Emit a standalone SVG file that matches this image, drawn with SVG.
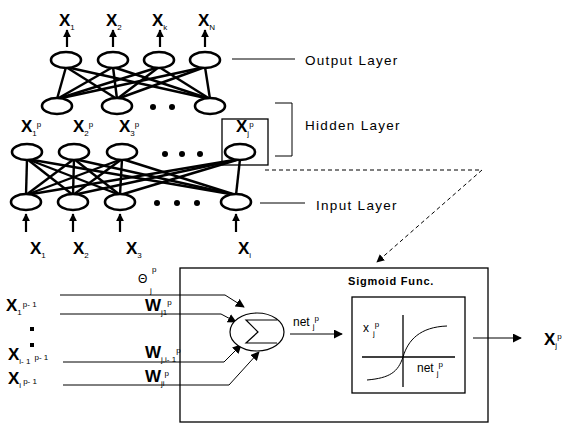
<svg xmlns="http://www.w3.org/2000/svg" width="571" height="424" viewBox="0 0 571 424">
<style>
.n{fill:#fff;stroke:#000;stroke-width:2.6}
.e{stroke:#000;stroke-width:2.4;fill:none}
.t{stroke:#000;stroke-width:1;fill:none}
.X{font-family:"Liberation Sans",Arial,sans-serif;font-weight:bold;font-size:17px;fill:#000}
.s{font-family:"Liberation Sans",Arial,sans-serif;font-size:8px;fill:#000;font-weight:normal}
.L{font-family:"Liberation Sans",Arial,sans-serif;font-size:13.5px;letter-spacing:1.3px;fill:#000}
.m{font-family:"Liberation Sans",Arial,sans-serif;font-size:12px;fill:#000}
.d{fill:#000}
</style>
<defs>
<marker id="ah" viewBox="0 0 10 10" refX="9" refY="5" markerWidth="8" markerHeight="8" markerUnits="userSpaceOnUse" orient="auto"><path d="M0,0 L10,5 L0,10 z" fill="#000"/></marker>
<marker id="ab" viewBox="0 0 10 10" refX="9" refY="5" markerWidth="9" markerHeight="9" markerUnits="userSpaceOnUse" orient="auto"><path d="M0,0 L10,5 L0,10 z" fill="#000"/></marker>
</defs>

<g id="connectors">
<g class="e">
<line x1="66" y1="67" x2="57" y2="99"/><line x1="66" y1="67" x2="117" y2="99"/><line x1="66" y1="67" x2="210" y2="99"/>
<line x1="113" y1="67" x2="57" y2="99"/><line x1="113" y1="67" x2="117" y2="99"/><line x1="113" y1="67" x2="210" y2="99"/>
<line x1="159" y1="67" x2="57" y2="99"/><line x1="159" y1="67" x2="117" y2="99"/><line x1="159" y1="67" x2="210" y2="99"/>
<line x1="205" y1="67" x2="57" y2="99"/><line x1="205" y1="67" x2="117" y2="99"/><line x1="205" y1="67" x2="210" y2="99"/>
<line x1="27" y1="159" x2="26" y2="195"/><line x1="27" y1="159" x2="73" y2="195"/><line x1="27" y1="159" x2="120" y2="195"/><line x1="27" y1="159" x2="236" y2="195"/>
<line x1="74" y1="159" x2="26" y2="195"/><line x1="74" y1="159" x2="73" y2="195"/><line x1="74" y1="159" x2="120" y2="195"/><line x1="74" y1="159" x2="236" y2="195"/>
<line x1="122" y1="159" x2="26" y2="195"/><line x1="122" y1="159" x2="73" y2="195"/><line x1="122" y1="159" x2="120" y2="195"/><line x1="122" y1="159" x2="236" y2="195"/>
<line x1="240" y1="159" x2="26" y2="195"/><line x1="240" y1="159" x2="73" y2="195"/><line x1="240" y1="159" x2="120" y2="195"/><line x1="240" y1="159" x2="236" y2="195"/>
</g>
<g stroke="#000" stroke-width="2.2">
<line x1="67" y1="47" x2="67" y2="30" marker-end="url(#ah)"/>
<line x1="113" y1="47" x2="113" y2="30" marker-end="url(#ah)"/>
<line x1="160" y1="47" x2="160" y2="30" marker-end="url(#ah)"/>
<line x1="205" y1="47" x2="205" y2="30" marker-end="url(#ah)"/>
<line x1="26" y1="232" x2="26" y2="214" marker-end="url(#ah)"/>
<line x1="73" y1="232" x2="73" y2="214" marker-end="url(#ah)"/>
<line x1="120" y1="232" x2="120" y2="214" marker-end="url(#ah)"/>
<line x1="236" y1="232" x2="236" y2="214" marker-end="url(#ah)"/>
</g>
<g class="t">
<line x1="232" y1="59" x2="295" y2="59"/>
<polyline points="275,103 292,103 292,156 275,156"/>
<line x1="260" y1="203" x2="305" y2="203"/>
</g>
<polyline points="265,170 482,170 377,262" fill="none" stroke="#000" stroke-width="1" stroke-dasharray="4,3" marker-end="url(#ah)"/>
<g class="t">
<polyline points="60,295 225,295 244,307" marker-end="url(#ab)"/>
<polyline points="60,314 221,314 236,322" marker-end="url(#ab)"/>
<polyline points="63,362 224,362 241,345" marker-end="url(#ab)"/>
<polyline points="63,385 229,385 259,352" marker-end="url(#ab)"/>
<line x1="290" y1="334" x2="342" y2="334" marker-end="url(#ab)"/>
<line x1="473" y1="338" x2="521" y2="338" marker-end="url(#ab)"/>
</g>
</g>

<g id="output-layer">
<ellipse class="n" cx="66" cy="60" rx="15" ry="8"/>
<ellipse class="n" cx="113" cy="60" rx="15" ry="8"/>
<ellipse class="n" cx="159" cy="60" rx="15" ry="8"/>
<ellipse class="n" cx="205" cy="60" rx="15" ry="8"/>
<text class="X" x="59" y="26">X<tspan class="s" dy="4">1</tspan></text>
<text class="X" x="106" y="26">X<tspan class="s" dy="4">2</tspan></text>
<text class="X" x="152" y="26">X<tspan class="s" dy="4">k</tspan></text>
<text class="X" x="198" y="26">X<tspan class="s" dy="4">N</tspan></text>
<text class="L" x="305" y="65">Output Layer</text>
</g>

<g id="hidden-layer">
<ellipse class="n" cx="57" cy="106" rx="15" ry="8"/>
<ellipse class="n" cx="117" cy="106" rx="15" ry="8"/>
<ellipse class="n" cx="210" cy="106" rx="15" ry="8"/>
<circle class="d" cx="153" cy="107" r="3"/><circle class="d" cx="172" cy="107" r="3"/>
<text class="X" x="21" y="132">X<tspan class="s" dy="4">1</tspan><tspan class="s" dy="-9">p</tspan></text>
<text class="X" x="73" y="132">X<tspan class="s" dy="4">2</tspan><tspan class="s" dy="-9">p</tspan></text>
<text class="X" x="119" y="132">X<tspan class="s" dy="4">3</tspan><tspan class="s" dy="-9">p</tspan></text>
<rect x="222" y="119" width="46" height="46" fill="none" stroke="#000" stroke-width="1.3"/>
<text class="X" x="236" y="132">X<tspan class="s" dy="4">j</tspan><tspan class="s" dy="-9">p</tspan></text>
<ellipse class="n" cx="27" cy="152" rx="15" ry="8"/>
<ellipse class="n" cx="74" cy="152" rx="15" ry="8"/>
<ellipse class="n" cx="122" cy="152" rx="15" ry="8"/>
<ellipse class="n" cx="240" cy="152" rx="15" ry="8"/>
<circle class="d" cx="165" cy="154" r="3"/><circle class="d" cx="182" cy="154" r="3"/><circle class="d" cx="200" cy="154" r="3"/>
<text class="L" x="305" y="130">Hidden Layer</text>
</g>

<g id="input-layer">
<ellipse class="n" cx="26" cy="202" rx="15" ry="8"/>
<ellipse class="n" cx="73" cy="202" rx="15" ry="8"/>
<ellipse class="n" cx="120" cy="202" rx="15" ry="8"/>
<ellipse class="n" cx="236" cy="202" rx="15" ry="8"/>
<circle class="d" cx="157" cy="203" r="3"/><circle class="d" cx="177" cy="203" r="3"/><circle class="d" cx="197" cy="203" r="3"/>
<text class="X" x="30" y="254">X<tspan class="s" dy="4">1</tspan></text>
<text class="X" x="73" y="254">X<tspan class="s" dy="4">2</tspan></text>
<text class="X" x="126" y="254">X<tspan class="s" dy="4">3</tspan></text>
<text class="X" x="238" y="254">X<tspan class="s" dy="4">i</tspan></text>
<text class="L" x="316" y="210">Input Layer</text>
</g>

<g id="neuron-inputs">
<text class="m" x="138" y="283">Θ</text>
<text class="s" x="152" y="272">p</text>
<text class="s" x="150" y="293">j</text>
<text class="X" x="145" y="311">W<tspan class="s" dy="4">j1</tspan><tspan class="s" dy="-10">p</tspan></text>
<text class="X" x="145" y="358">W<tspan class="s" dy="4">j,i- 1</tspan><tspan class="s" dy="-9">p</tspan></text>
<text class="X" x="145" y="382">W<tspan class="s" dy="4">ji</tspan><tspan class="s" dy="-10">p</tspan></text>
<text class="X" x="6" y="311">X<tspan class="s" dy="4">1</tspan><tspan class="s" dx="1" dy="-8">p- 1</tspan></text>
<rect x="30" y="327" width="4" height="4" class="d"/>
<rect x="30" y="343" width="4" height="4" class="d"/>
<text class="X" x="8" y="360">X<tspan class="s" dy="4">i- 1</tspan><tspan class="s" dx="4" dy="-4">p- 1</tspan></text>
<text class="X" x="8" y="384">X<tspan class="s" dy="4">i</tspan><tspan class="s" dx="2" dy="-4">p- 1</tspan></text>
</g>

<g id="neuron">
<rect x="180" y="268" width="308" height="154" fill="none" stroke="#000" stroke-width="1.3"/>
<ellipse cx="257" cy="332" rx="27" ry="19" fill="#fff" stroke="#000" stroke-width="1.2"/>
<polyline points="277,320 246,320 258,332 246,343 277,343" fill="none" stroke="#000" stroke-width="1.2"/>
<text class="m" x="293" y="326">net<tspan class="s" dx="3" dy="3">j</tspan><tspan class="s" dy="-8">p</tspan></text>
</g>

<g id="sigmoid">
<text x="348" y="285" font-family="'Liberation Sans',Arial,sans-serif" font-weight="bold" font-size="11" letter-spacing="0.8">Sigmoid Func.</text>
<rect x="352" y="297" width="113" height="96" fill="none" stroke="#000" stroke-width="1.3"/>
<line x1="403" y1="315" x2="403" y2="387" stroke="#000" stroke-width="1.3"/>
<line x1="362" y1="357" x2="455" y2="357" stroke="#000" stroke-width="1.3"/>
<path d="M367,380 C390,378 398,372 403,357 C408,340 420,327 447,326" fill="none" stroke="#000" stroke-width="1"/>
<text class="m" x="363" y="332">x<tspan class="s" dx="4" dy="4">j</tspan><tspan class="s" dy="-9">p</tspan></text>
<text class="m" x="417" y="372">net<tspan class="s" dx="3" dy="4">j</tspan><tspan class="s" dy="-9">p</tspan></text>
</g>

<g id="output">
<text class="X" x="544" y="345">X<tspan class="s" dy="3">j</tspan><tspan class="s" dy="-9">p</tspan></text>
</g>
</svg>
